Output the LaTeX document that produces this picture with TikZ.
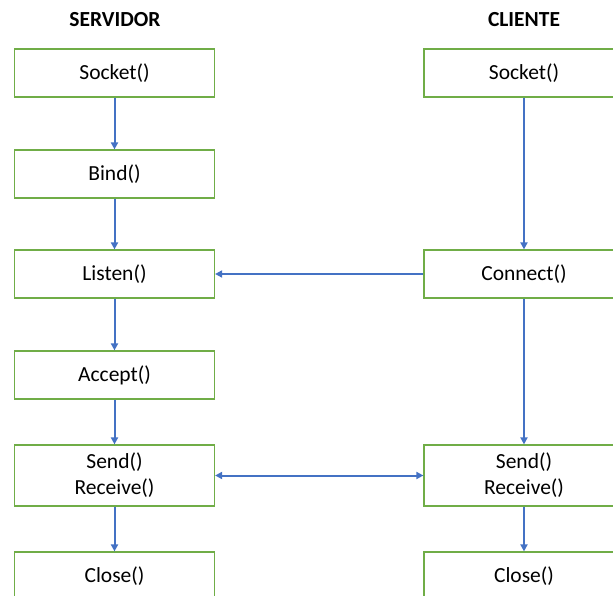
\documentclass[tikz,border=0pt]{standalone}
\usepackage{fontspec}
\setmainfont{Carlito}
\usetikzlibrary{arrows.meta}
\definecolor{boxgreen}{RGB}{112,173,71}
\definecolor{arrblue}{RGB}{68,114,196}
\begin{document}
\begin{tikzpicture}[x=1pt,y=-1pt,
  box/.style={draw=boxgreen,line width=1.2pt,minimum width=200pt,minimum height=48pt,inner sep=0pt,font=\fontsize{21.5}{26}\selectfont,align=center},
  tall/.style={box,minimum height=61pt},
  title/.style={font=\fontsize{21.5}{26}\selectfont\bfseries},
  conn/.style={draw=arrblue,line width=2pt,-{Triangle[length=7pt,width=7pt]}},
  dconn/.style={draw=arrblue,line width=2pt,{Triangle[length=7pt,width=7pt]}-{Triangle[length=7pt,width=7pt]}}]
\useasboundingbox (0,0) rectangle (613,596);
\clip (0,0) rectangle (613,596);
\node[title] (ts) at (115,20) {SERVIDOR};
\node[title] (tc) at (524,20) {CLIENTE};
\node[box] (s1) at (114.5,73) {Socket()};
\node[box] (s2) at (114.5,174) {Bind()};
\node[box] (s3) at (114.5,274) {Listen()};
\node[box] (s4) at (114.5,375) {Accept()};
\node[tall] (s5) at (114.5,475.5) {Send()\\Receive()};
\node[box] (s6) at (114.5,576) {Close()};
\node[box] (c1) at (524,73) {Socket()};
\node[box] (c2) at (524,274) {Connect()};
\node[tall] (c3) at (524,475.5) {Send()\\Receive()};
\node[box] (c4) at (524,576) {Close()};
\draw[conn] (s1) -- (s2);
\draw[conn] (s2) -- (s3);
\draw[conn] (s3) -- (s4);
\draw[conn] (s4) -- (s5);
\draw[conn] (s5) -- (s6);
\draw[conn] (c1) -- (c2);
\draw[conn] (c2) -- (c3);
\draw[conn] (c3) -- (c4);
\draw[conn] (c2) -- (s3);
\draw[dconn] (s5) -- (c3);
\end{tikzpicture}
\end{document}
